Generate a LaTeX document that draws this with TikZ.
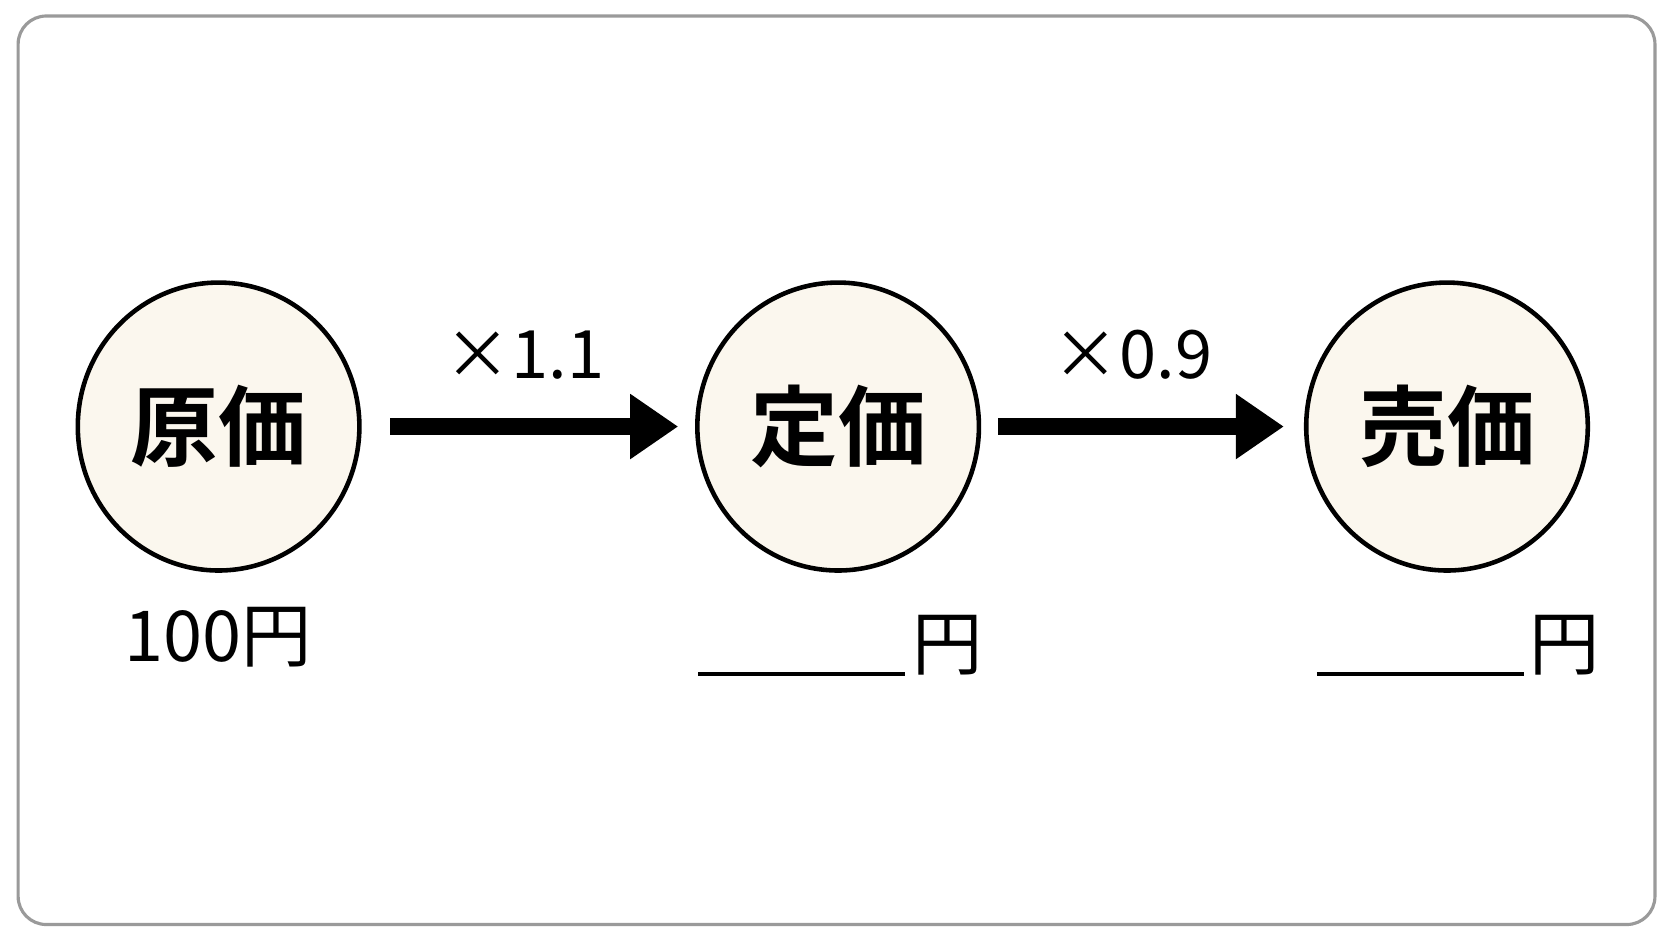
\documentclass[tikz,border=0pt]{standalone}
\usepackage{fontspec}
\setmainfont{Noto Sans CJK JP}
\newfontfamily\jpbold{Noto Sans CJK JP Bold}
\usetikzlibrary{shapes.geometric, arrows.meta}
\definecolor{cream}{HTML}{FBF7EE}
\definecolor{framegray}{HTML}{9A9A9A}
\begin{document}
\begin{tikzpicture}[
    x=0.01066cm, y=-0.01066cm,
    price/.style  = {draw, ellipse, line width=1.3pt, fill=cream,
                     minimum width=2.77cm, minimum height=2.88cm,
                     font=\jpbold\fontsize{25}{25}\selectfont},
    factor/.style = {font=\fontsize{19}{19}\selectfont},
    amount/.style = {font=\fontsize{20}{20}\selectfont},
    flow/.style   = {draw, line width=0.17cm,
                     -{Triangle[length=0.48cm, width=0.62cm]}},
    blank/.style  = {draw, line width=1.2pt},
  ]
  \useasboundingbox (0,0) rectangle (1568,882);
  \draw[framegray, line width=0.9pt, rounded corners=8pt] (17,15) rectangle (1552,867);

  \node[price] (cost) at (205,400) {原価};
  \node[price] (list) at (786,400) {定価};
  \node[price] (sale) at (1357,400) {売価};

  \node[factor] (mul1) at (492,333) {×1.1};
  \node[factor] (mul2) at (1062,333) {×0.9};

  \draw[flow] (366,400) -- (636,400);
  \draw[flow] (936,400) -- (1204,400);

  \node[amount] (costval) at (205,598) {100円};

  \coordinate (lista) at (655,632);
  \coordinate (listb) at (849,632);
  \draw[blank] (lista) -- (listb);
  \node[amount] (listyen) at (889,605) {円};

  \coordinate (salea) at (1235,632);
  \coordinate (saleb) at (1429,632);
  \draw[blank] (salea) -- (saleb);
  \node[amount] (saleyen) at (1467,605) {円};
\end{tikzpicture}
\end{document}
